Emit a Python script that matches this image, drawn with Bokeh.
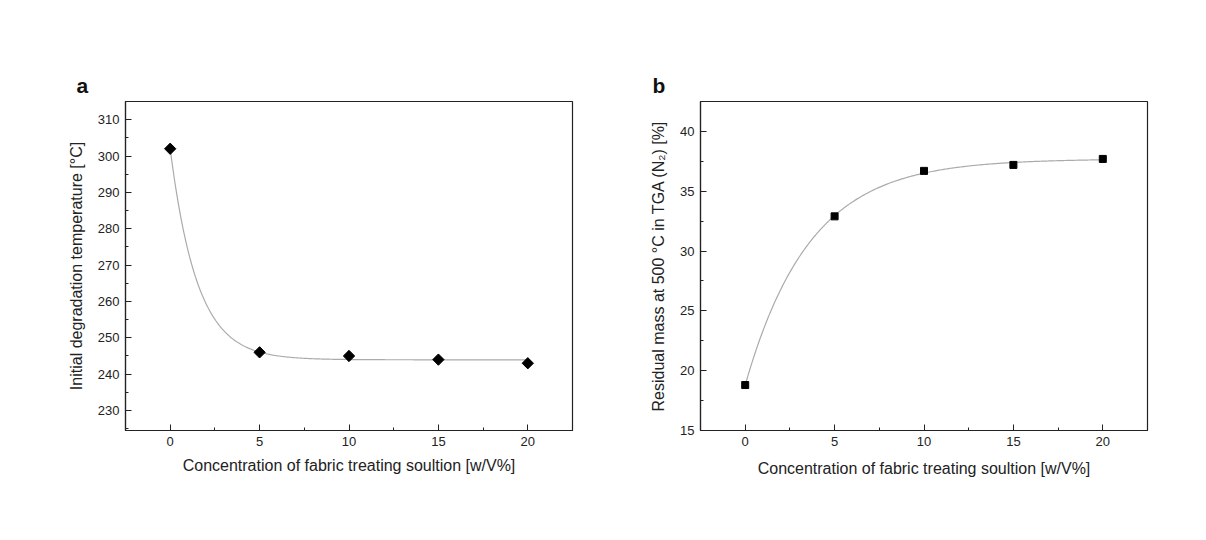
import numpy as np
from bokeh.plotting import figure
from bokeh.layouts import row
from bokeh.models import FixedTicker, Range1d, Title
from bokeh.embed import file_html
from bokeh.resources import INLINE

# ---- data ----
conc = [0, 5, 10, 15, 20]
temp_a = [302, 246, 245, 244, 243]
resid_b = [18.8, 32.9, 36.7, 37.2, 37.7]

x_ticks = [0, 5, 10, 15, 20]
y_ticks_a = [230, 240, 250, 260, 270, 280, 290, 300, 310]
y_ticks_b = [15, 20, 25, 30, 35, 40]

x_label = "Concentration of fabric treating soultion [w/V%]"
y_label_a = "Initial degradation temperature [°C]"
y_label_b = "Residual mass at 500 °C in TGA (N\u2082) [%]"

FONT = "Liberation Sans"


def exp_fit(x, y):
    """Least-squares fit y = y0 + A*exp(-x/t) (grid over t, linear in y0, A)."""
    x = np.asarray(x, float)
    y = np.asarray(y, float)
    best = None
    for t in np.linspace(0.2, 15, 3000):
        M = np.column_stack([np.ones_like(x), np.exp(-x / t)])
        coef, *_ = np.linalg.lstsq(M, y, rcond=None)
        err = np.sum((M @ coef - y) ** 2)
        if best is None or err < best[0]:
            best = (err, coef, t)
    _, (y0, A), t = best
    xs = np.linspace(min(x), max(x), 300)
    return xs, y0 + A * np.exp(-xs / t)


def make_panel(letter, letter_off, y, ylabel, yr, yticks, yminor, marker, msize, angle,
               border_left, width):
    p = figure(width=width, height=520, output_backend="svg", toolbar_location=None,
               x_range=Range1d(-2.5, 22.5), y_range=Range1d(*yr),
               min_border_left=border_left, min_border_right=10,
               min_border_top=101, min_border_bottom=90)
    p.add_layout(Title(text=letter, text_font=FONT, text_font_size="21px",
                       text_font_style="bold", text_color="#111111",
                       align="left", offset=letter_off, standoff=10), "above")
    p.grid.visible = False
    p.background_fill_color = "white"
    p.border_fill_color = "white"
    p.outline_line_color = "#222222"
    p.outline_line_width = 1.2

    xs, ys = exp_fit(conc, y)
    p.line(xs, ys, line_color="#ababab", line_width=1.2)
    p.scatter(conc, y, marker=marker, size=msize, angle=angle,
              fill_color="black", line_color="black")

    p.xaxis.ticker = FixedTicker(ticks=x_ticks, minor_ticks=[-2.5, 2.5, 7.5, 12.5, 17.5, 22.5])
    p.yaxis.ticker = FixedTicker(ticks=yticks, minor_ticks=yminor)
    for ax in (p.xaxis[0], p.yaxis[0]):
        ax.major_tick_in = 6
        ax.major_tick_out = 0
        ax.minor_tick_in = 3
        ax.minor_tick_out = 0
        ax.axis_line_color = "#222222"
        ax.axis_line_width = 1.2
        ax.major_tick_line_color = "#222222"
        ax.minor_tick_line_color = "#222222"
        ax.major_label_text_font = FONT
        ax.major_label_text_font_size = "13px"
        ax.major_label_text_color = "#222222"
        ax.axis_label_text_font = FONT
        ax.axis_label_text_font_size = "16px"
        ax.axis_label_text_font_style = "normal"
        ax.axis_label_text_color = "#222222"
    p.xaxis.axis_label = x_label
    p.yaxis.axis_label = ylabel
    p.xaxis.major_label_standoff = 6
    p.xaxis.axis_label_standoff = 8
    p.yaxis.major_label_standoff = 6
    p.yaxis.axis_label_standoff = 10
    return p


pa = make_panel("a", -49, temp_a, y_label_a, (224.5, 315), y_ticks_a,
                [225, 235, 245, 255, 265, 275, 285, 295, 305, 315],
                "square", 8, np.pi / 4, 125, 582)
pb = make_panel("b", -48, resid_b, y_label_b, (15, 42.5), y_ticks_b,
                [17.5, 22.5, 27.5, 32.5, 37.5, 42.5],
                "square", 7, 0.0, 118, 575)
pb.xaxis.axis_label_standoff = 11

layout = row(pa, pb)
open("out.html", "w").write(file_html(layout, INLINE))
